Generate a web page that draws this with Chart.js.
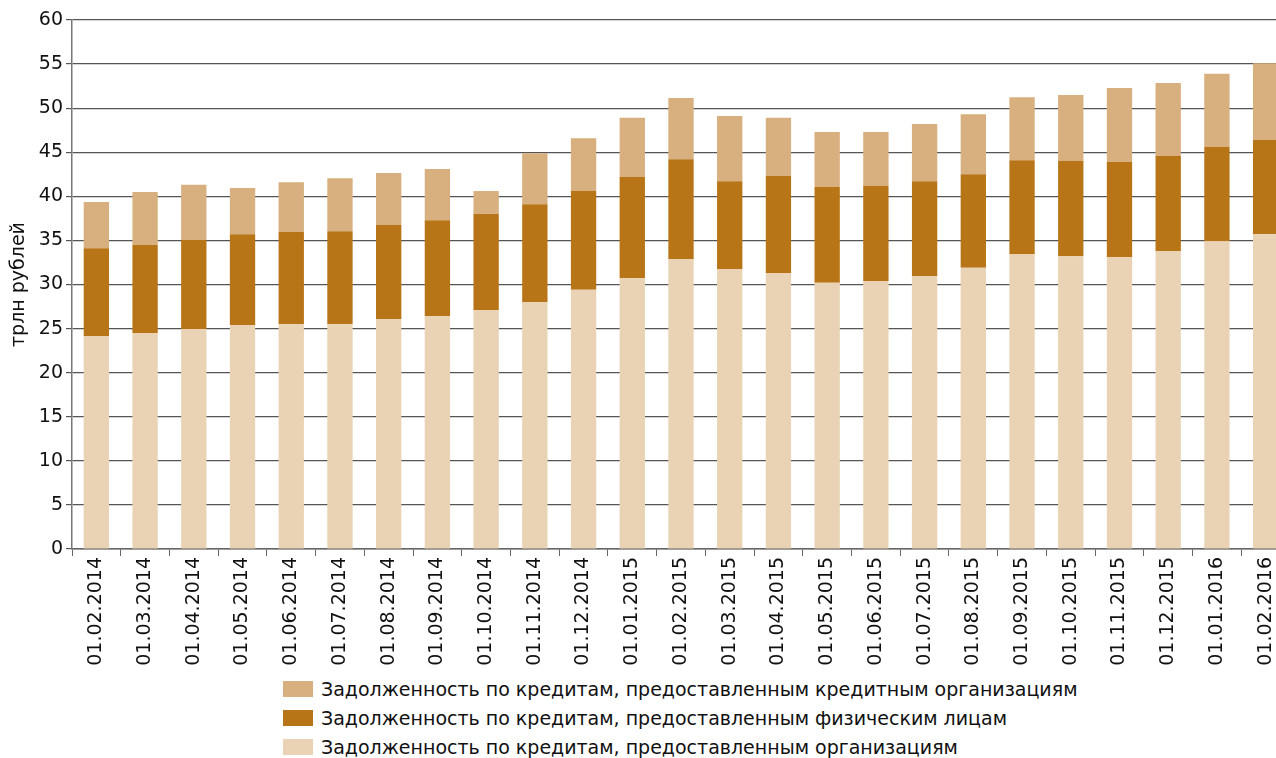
<!DOCTYPE html>
<html>
<head>
<meta charset="utf-8">
<script src="https://cdn.jsdelivr.net/npm/chart.js@4/dist/chart.umd.min.js"></script>
<style>
  html, body { margin: 0; padding: 0; background: #fff; overflow: hidden; width: 1276px; height: 758px; }
  #wrap { position: absolute; left: 0; top: 0; width: 1290px; height: 672px; }
  #legend { position: absolute; left: 283px; top: 674px; font-family: "DejaVu Sans", sans-serif; font-size: 19px; color: #111; }
  #legend div { height: 29px; display: flex; align-items: center; white-space: nowrap; }
  #legend span.box { display: inline-block; width: 30px; height: 16px; margin-right: 8px; }
</style>
</head>
<body>
<div id="wrap"><canvas id="bar-chart"></canvas></div>
<div id="legend"></div>
<script>
(() => {
    const dates = [
        '01.02.2014', '01.03.2014', '01.04.2014', '01.05.2014', '01.06.2014',
        '01.07.2014', '01.08.2014', '01.09.2014', '01.10.2014', '01.11.2014',
        '01.12.2014', '01.01.2015', '01.02.2015', '01.03.2015', '01.04.2015',
        '01.05.2015', '01.06.2015', '01.07.2015', '01.08.2015', '01.09.2015',
        '01.10.2015', '01.11.2015', '01.12.2015', '01.01.2016', '01.02.2016'
    ];
    // трлн рублей
    const organizations = [
        24.15, 24.5, 24.95, 25.4, 25.5, 25.5, 26.1, 26.4, 27.1, 28.0,
        29.4, 30.7, 32.9, 31.75, 31.3, 30.2, 30.4, 30.95, 31.9, 33.45,
        33.2, 33.1, 33.8, 34.9, 35.7
    ];
    const individuals = [
        9.95, 10.0, 10.1, 10.3, 10.45, 10.55, 10.65, 10.9, 10.9, 11.1,
        11.2, 11.5, 11.3, 9.95, 11.0, 10.85, 10.8, 10.75, 10.6, 10.65,
        10.8, 10.8, 10.8, 10.7, 10.7
    ];
    const creditOrgs = [
        5.25, 6.0, 6.25, 5.25, 5.65, 6.0, 5.9, 5.8, 2.6, 5.8,
        6.0, 6.7, 6.95, 7.4, 6.6, 6.25, 6.1, 6.5, 6.8, 7.15,
        7.5, 8.4, 8.25, 8.3, 8.7
    ];
    const yTicks = { min: 0, max: 60, step: 5 };

    const colors = {
        light: 'rgb(234, 211, 180)',
        dark: 'rgb(184, 117, 24)',
        mid: 'rgb(216, 175, 126)'
    };
    const font = { family: '"DejaVu Sans", sans-serif', size: 19 };

    const ctx = document.getElementById('bar-chart').getContext('2d');
    const barChart = new Chart(ctx, {
        type: 'bar',
        data: {
            labels: dates,
            datasets: [{
                label: 'Задолженность по кредитам, предоставленным организациям',
                data: organizations,
                backgroundColor: colors.light
            }, {
                label: 'Задолженность по кредитам, предоставленным физическим лицам',
                data: individuals,
                backgroundColor: colors.dark
            }, {
                label: 'Задолженность по кредитам, предоставленным кредитным организациям',
                data: creditOrgs,
                backgroundColor: colors.mid
            }]
        },
        options: {
            responsive: true,
            maintainAspectRatio: false,
            animation: false,
            layout: { padding: { top: 20, left: 0, right: 0, bottom: 0 } },
            datasets: { bar: { barPercentage: 0.52, categoryPercentage: 1.0 } },
            plugins: { legend: { display: false }, tooltip: { enabled: false } },
            scales: {
                x: {
                    stacked: true,
                    afterFit: (scale) => { scale.height = 123; },
                    grid: { drawOnChartArea: false, drawTicks: true, tickLength: 7, color: '#666' },
                    border: { color: '#666', width: 1.5 },
                    ticks: { color: '#111', font: font, maxRotation: 90, minRotation: 90, padding: 1, autoSkip: false }
                },
                y: {
                    stacked: true,
                    min: yTicks.min,
                    max: yTicks.max,
                    afterFit: (scale) => { scale.width = 72; },
                    grid: { color: '#555', lineWidth: 1.2, tickLength: 6 },
                    border: { color: '#777', width: 1.5 },
                    ticks: { stepSize: yTicks.step, color: '#111', font: font, padding: 3 },
                    title: { display: true, text: 'трлн рублей', color: '#111', font: font, padding: { top: 8, bottom: 0 } }
                }
            }
        }
    });

    // legend, top series first
    const legend = document.getElementById('legend');
    barChart.data.datasets.slice().reverse().forEach((ds) => {
        const row = document.createElement('div');
        const box = document.createElement('span');
        box.className = 'box';
        box.style.background = ds.backgroundColor;
        row.appendChild(box);
        row.appendChild(document.createTextNode(ds.label));
        legend.appendChild(row);
    });
})();
</script>
</body>
</html>
